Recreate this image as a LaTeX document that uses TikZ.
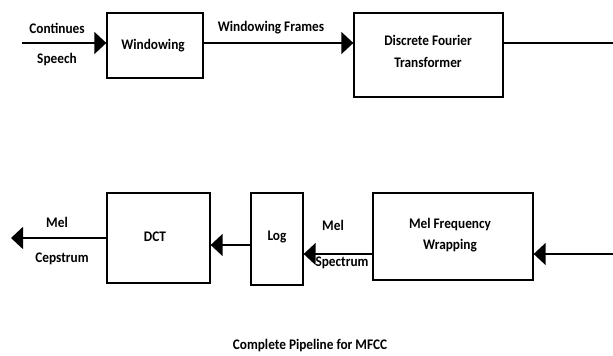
\documentclass[tikz,border=0pt]{standalone}
\usepackage{fontspec}
\setmainfont{Carlito}
\usetikzlibrary{arrows.meta}
\begin{document}
\begin{tikzpicture}[x=1pt,y=-1pt,
  blk/.style={draw,line width=1.3pt,inner sep=0pt},
  conn/.style={line width=1.6pt},
  arr/.style={conn,-{Triangle[length=12pt,width=22pt]}},
  lbl/.style={font=\bfseries\fontsize{13.3}{15}\selectfont,inner sep=0pt,align=center,yscale=1.1}]
\useasboundingbox (0,0) rectangle (613,356);
% boxes
\node[blk,minimum width=96pt,minimum height=65pt] (win) at (155,45.5) {};
\node[blk,minimum width=149pt,minimum height=84pt] (dft) at (428.5,55) {};
\node[blk,minimum width=103pt,minimum height=90pt] (dct) at (158.5,238) {};
\node[blk,minimum width=52pt,minimum height=92pt] (log) at (277,239) {};
\node[blk,minimum width=160pt,minimum height=87pt] (mfw) at (453,236.5) {};
% box texts
\node[lbl] (twin) at (153,46) {Windowing};
\node[lbl] (tdft1) at (428,40) {Discrete Fourier};
\node[lbl] (tdft2) at (428,62) {Transformer};
\node[lbl] (tdct) at (155,237) {DCT};
\node[lbl] (tlog) at (277,237) {Log};
\node[lbl] (tmfw1) at (450,225) {Mel Frequency};
\node[lbl] (tmfw2) at (450,246) {Wrapping};
% edge coordinates
\coordinate (in) at (22,43);
\coordinate (dftout) at (613,43);
\coordinate (mfwin) at (613,254);
\coordinate (out) at (11,238);
% connectors
\draw[arr] (in) -- (in -| win.west);
\draw[arr] (win.east |- 0,43) -- (dft.west |- 0,43);
\draw[conn] (dft.east |- dftout) -- (dftout);
\draw[arr] (mfwin) -- (mfw.east |- mfwin);
\draw[arr] (mfw.west |- 0,254) -- (log.east |- 0,254);
\draw[arr] (log.west |- 0,245) -- (dct.east |- 0,245);
\draw[arr] (dct.west |- out) -- (out);
% connector labels
\node[lbl] (l1) at (57,28) {Continues};
\node[lbl] (l2) at (57,60) {Speech};
\node[lbl] (l3) at (271,28) {Windowing Frames};
\node[lbl] (l4) at (57,222) {Mel};
\node[lbl] (l5) at (62,259) {Cepstrum};
\node[lbl] (l6) at (333,225) {Mel};
\node[lbl] (l7) at (342,263) {Spectrum};
\node[lbl] (cap) at (310,346) {Complete Pipeline for MFCC};
\end{tikzpicture}
\end{document}
